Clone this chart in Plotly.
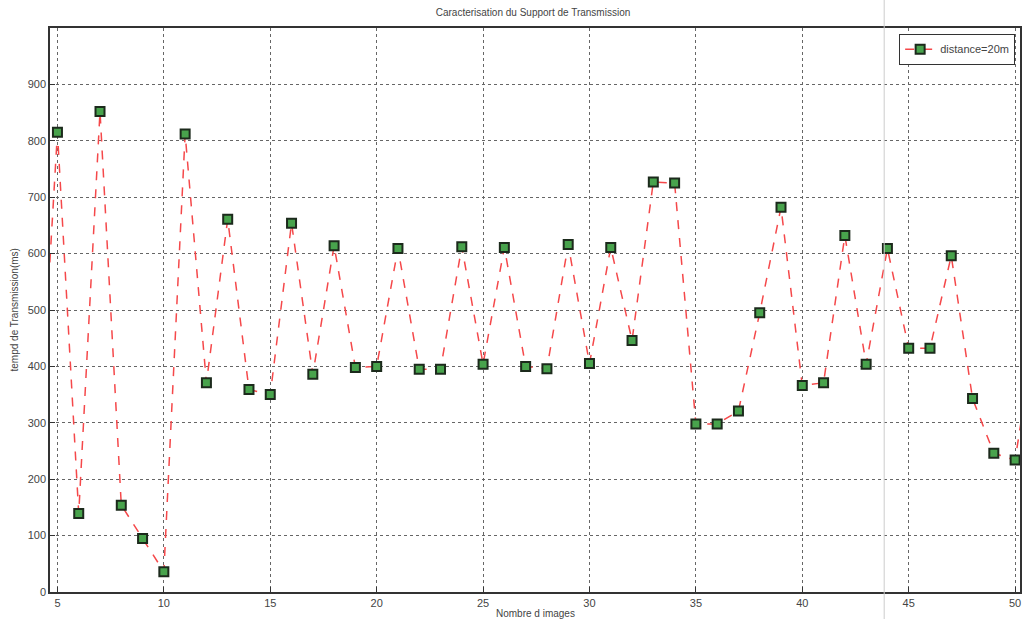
import plotly.graph_objects as go

x_images = list(range(4, 52))
temps_ms = [170, 815, 139, 852, 154, 95, 36, 812, 371, 661, 359, 350, 654, 386, 614,
            398, 400, 609, 395, 395, 612, 404, 611, 400, 396, 616, 405, 611, 446,
            727, 725, 298, 298, 321, 495, 682, 366, 371, 632, 404, 609, 432, 432,
            596, 343, 246, 234, 477]
x_ticks = [5, 10, 15, 20, 25, 30, 35, 40, 45, 50]
y_ticks = [0, 100, 200, 300, 400, 500, 600, 700, 800, 900]

FONT = "Arial, Liberation Sans"
fig = go.Figure()
fig.add_trace(go.Scatter(
    x=x_images, y=temps_ms, mode="lines+markers", name="distance=20m",
    line=dict(color="#f5484a", width=1.5, dash="dash"),
    marker=dict(symbol="square", size=9, color="#48a34c",
                line=dict(color="#1c2a1c", width=2)),
))

axis_common = dict(showgrid=True, gridcolor="#666666", griddash="dot", gridwidth=1,
                   showline=True, linecolor="#333333", linewidth=1.5, mirror=True,
                   ticks="inside", ticklen=5, tickcolor="#333333", zeroline=False,
                   tickfont=dict(family=FONT, size=11, color="#444444"))

fig.update_xaxes(range=[4.65, 50.23], tickvals=x_ticks, ticklabelstandoff=0, **axis_common)
fig.update_yaxes(range=[0, 1000], tickvals=y_ticks, **axis_common)

fig.update_layout(
    width=1025, height=619,
    margin=dict(l=50, r=3, t=28, b=27),
    paper_bgcolor="white", plot_bgcolor="white",
    title=dict(text="Caracterisation du Support de Transmission", x=0.52, y=0.985,
               xanchor="center", yanchor="top",
               font=dict(family=FONT, size=10, color="#444444")),
    legend=dict(x=0.995, y=0.99, xanchor="right", yanchor="top",
                bgcolor="white", bordercolor="#333333", borderwidth=1,
                font=dict(family=FONT, size=11, color="#444444")),
    showlegend=True,
    annotations=[
        dict(text="Nombre d images", xref="paper", yref="paper", x=0.5, y=0,
             yshift=-14, xanchor="center", yanchor="top", showarrow=False,
             font=dict(family=FONT, size=10, color="#444444")),
        dict(text="tempd de Transmission(ms)", xref="paper", yref="paper", x=0, y=0.5,
             xshift=-44, xanchor="left", yanchor="middle", textangle=-90, showarrow=False,
             font=dict(family=FONT, size=10, color="#444444")),
    ],
    shapes=[dict(type="line", xref="paper", yref="paper", x0=0.860, x1=0.860, y0=-0.05, y1=1.05,
                 line=dict(color="#cccccc", width=1))],
)

fig.write_html("out.html", config={"displayModeBar": False},
               post_script="document.body.style.margin='0';document.body.style.overflow='hidden';")
